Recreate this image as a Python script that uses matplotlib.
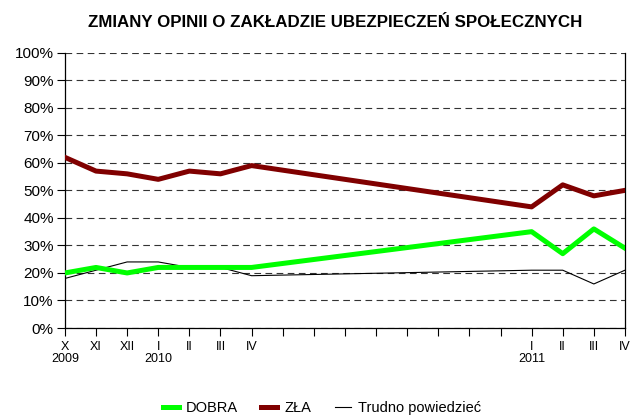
import matplotlib
matplotlib.use('Agg')
import matplotlib.pyplot as plt
import pandas as pd

plt.rcParams['font.family'] = ['Liberation Sans', 'DejaVu Sans']

# survey months and results (%)
survey_months = ['2009-10', '2009-11', '2009-12', '2010-01', '2010-02', '2010-03', '2010-04',
                 '2011-01', '2011-02', '2011-03', '2011-04']
month_labels = ['X\n2009', 'XI', 'XII', 'I\n2010', 'II', 'III', 'IV',
                'I\n2011', 'II', 'III', 'IV']
dobra = [20, 22, 20, 22, 22, 22, 22, 35, 27, 36, 29]
zla = [62, 57, 56, 54, 57, 56, 59, 44, 52, 48, 50]
trudno = [18, 21, 24, 24, 22, 22, 19, 21, 21, 16, 21]

periods = pd.PeriodIndex(survey_months, freq='M')
x = [(p - periods[0]).n for p in periods]
n_months = x[-1]

fig = plt.figure(figsize=(6.3, 4.17), dpi=100)
ax = fig.add_axes([0.103, 0.2134, 0.889, 0.6602])

ax.plot(x, trudno, color='black', lw=0.8, label='Trudno powiedzieć', zorder=3)
ax.plot(x, dobra, color='#00ff00', lw=3.6, label='DOBRA', zorder=4)
ax.plot(x, zla, color='#800000', lw=3.6, label='ZŁA', zorder=4)

ax.set_xlim(0, n_months)
ax.set_ylim(0, 100)
ax.set_yticks(range(0, 101, 10))
ax.set_yticklabels([f'{v}%' for v in range(0, 101, 10)], fontsize=11)

labels = [''] * (n_months + 1)
for xi, lab in zip(x, month_labels):
    labels[xi] = lab
ax.set_xticks(range(n_months + 1))
ax.set_xticklabels(labels, fontsize=9, linespacing=1.1)
ax.tick_params(axis='both', direction='out', length=6, width=0.8, color='black')
ax.tick_params(axis='x', pad=3)
ax.tick_params(axis='y', pad=2)

for v in range(0, 101, 10):
    ax.axhline(v, color='#333333', lw=0.8, ls=(0, (6, 4)), zorder=1)

ax.spines['top'].set_visible(False)
for s in ['left', 'right', 'bottom']:
    ax.spines[s].set_color('black')
    ax.spines[s].set_linewidth(0.9)

fig.text(0.532, 0.947, 'ZMIANY OPINII O ZAKŁADZIE UBEZPIECZEŃ SPOŁECZNYCH',
         ha='center', va='center', fontsize=12.2, fontweight='bold')

handles, labs = ax.get_legend_handles_labels()
order = [1, 2, 0]
fig.legend([handles[i] for i in order], [labs[i] for i in order],
           loc='center', bbox_to_anchor=(0.511, 0.022), ncol=3, frameon=False,
           fontsize=10.5, handlelength=1.1, handletextpad=0.5, columnspacing=1.6)

fig.savefig('out.png', dpi=100)
